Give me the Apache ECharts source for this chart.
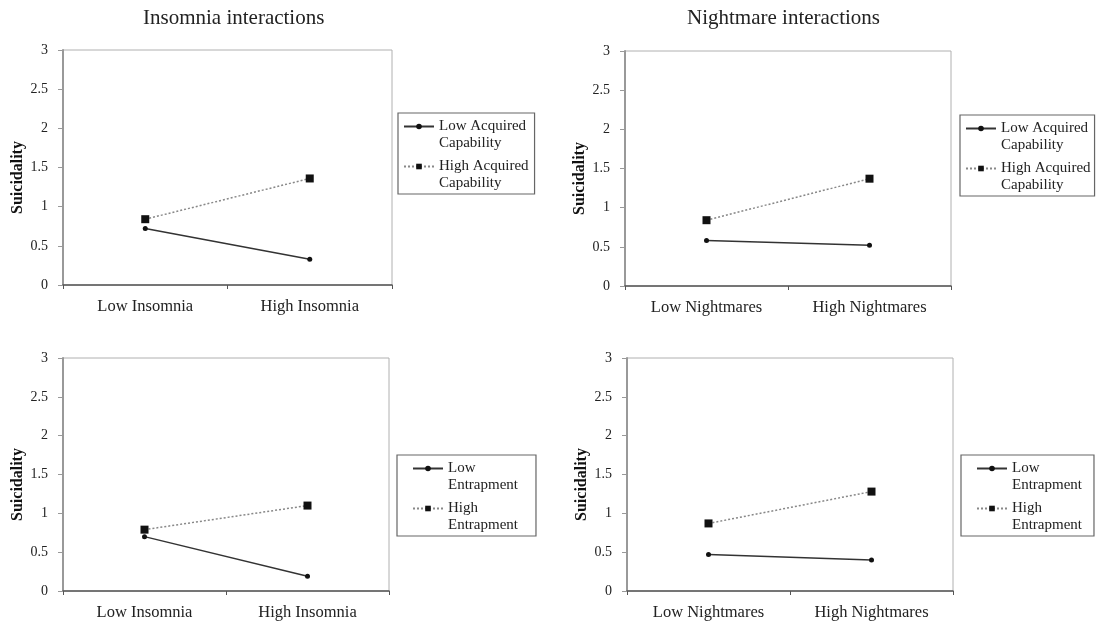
<!DOCTYPE html>
<html><head><meta charset="utf-8">
<script src="https://cdn.jsdelivr.net/npm/echarts@6/dist/echarts.min.js"></script>
<style>html,body{margin:0;padding:0;background:#fff}#c{width:1097px;height:626px}</style>
</head><body><div id="c"></div>
<script>
// ---- data ----
const insomniaCategories = ['Low Insomnia', 'High Insomnia'];
const nightmareCategories = ['Low Nightmares', 'High Nightmares'];
const yTickLabels = ['0', '0.5', '1', '1.5', '2', '2.5', '3'];
const insomniaLowCapability = [0.72, 0.33];
const insomniaHighCapability = [0.84, 1.36];
const nightmareLowCapability = [0.58, 0.52];
const nightmareHighCapability = [0.84, 1.37];
const insomniaLowEntrapment = [0.70, 0.19];
const insomniaHighEntrapment = [0.79, 1.10];
const nightmareLowEntrapment = [0.47, 0.40];
const nightmareHighEntrapment = [0.87, 1.28];
const panelTitles = ['Insomnia interactions', 'Nightmare interactions'];
const yAxisName = 'Suicidality';
const capabilityLabels = ['Low Acquired\nCapability', 'High Acquired\nCapability'];
const entrapmentLabels = ['Low\nEntrapment', 'High\nEntrapment'];

// ---- layout / style ----
const FONT = '"Liberation Serif", "Times New Roman", serif';
const grids = [
  {left: 63, top: 50, width: 329, height: 235},
  {left: 625, top: 51, width: 326, height: 235},
  {left: 63, top: 358, width: 326, height: 233},
  {left: 627, top: 358, width: 326, height: 233}
];
const panels = [
  {cats: insomniaCategories, low: insomniaLowCapability, high: insomniaHighCapability, labels: capabilityLabels,
   legend: {left: 398, top: 113, padL: 5, padR: 6}},
  {cats: nightmareCategories, low: nightmareLowCapability, high: nightmareHighCapability, labels: capabilityLabels,
   legend: {left: 960, top: 115, padL: 5, padR: 4}},
  {cats: insomniaCategories, low: insomniaLowEntrapment, high: insomniaHighEntrapment, labels: entrapmentLabels,
   legend: {left: 397, top: 455, padL: 15, padR: 18}},
  {cats: nightmareCategories, low: nightmareLowEntrapment, high: nightmareHighEntrapment, labels: entrapmentLabels,
   legend: {left: 961, top: 455, padL: 15, padR: 12}}
];

const labelMap = {};
const option = {
  animation: false,
  backgroundColor: '#fff',
  grid: [], xAxis: [], yAxis: [], series: [], legend: [],
  graphic: [
    {type: 'text', left: 143, top: 8, style: {text: panelTitles[0], font: '21px ' + FONT, fill: '#222'}},
    {type: 'text', left: 687, top: 8, style: {text: panelTitles[1], font: '21px ' + FONT, fill: '#222'}}
  ]
};

panels.forEach((p, i) => {
  option.grid.push(Object.assign({show: true, borderColor: '#b0b0b0', borderWidth: 1, backgroundColor: '#fff'}, grids[i]));
  option.xAxis.push({
    type: 'category', gridIndex: i, data: p.cats, boundaryGap: true,
    axisLine: {lineStyle: {color: '#555', width: 1.5}},
    axisTick: {show: true, length: 4, lineStyle: {color: '#555'}},
    axisLabel: {fontFamily: FONT, fontSize: 16.5, color: '#222', margin: 13}
  });
  option.yAxis.push({
    type: 'value', gridIndex: i, min: 0, max: 3, interval: 0.5,
    axisLine: {show: true, lineStyle: {color: '#999', width: 2}},
    axisTick: {show: true, length: 5, lineStyle: {color: '#999'}},
    splitLine: {show: false},
    axisLabel: {fontFamily: FONT, fontSize: 14, color: '#222', margin: 15,
      formatter: (v) => yTickLabels[Math.round(v * 2)]},
    name: yAxisName, nameLocation: 'middle', nameGap: 37, nameRotate: 90,
    nameTextStyle: {fontFamily: FONT, fontSize: 16, fontWeight: 'bold', color: '#111', padding: [0, 20, 0, 0]}
  });
  const lowName = 'p' + i + '_low', highName = 'p' + i + '_high';
  labelMap[lowName] = '\n' + p.labels[0];
  labelMap[highName] = '\n' + p.labels[1];
  option.series.push({
    name: lowName, type: 'line', xAxisIndex: i, yAxisIndex: i, data: p.low,
    symbol: 'circle', symbolSize: 5,
    lineStyle: {color: '#333', width: 1.5, type: 'solid'},
    itemStyle: {color: '#111'}
  });
  option.series.push({
    name: highName, type: 'line', xAxisIndex: i, yAxisIndex: i, data: p.high,
    symbol: 'rect', symbolSize: 8,
    lineStyle: {color: '#888', width: 1.5, type: [2, 2]},
    itemStyle: {color: '#111'}
  });
  option.legend.push({
    orient: 'vertical', left: p.legend.left, top: p.legend.top,
    data: [lowName, highName], selectedMode: false,
    formatter: (n) => labelMap[n],
    itemWidth: 30, itemHeight: 7, itemGap: -11,
    padding: [-12, p.legend.padR, 2, p.legend.padL],
    borderColor: '#666', borderWidth: 1.2, backgroundColor: '#fff',
    textStyle: {fontFamily: FONT, fontSize: 15, color: '#222', lineHeight: 17}
  });
});

const chart = echarts.init(document.getElementById('c'), null, {renderer: 'canvas'});
chart.setOption(option);
</script>
</body></html>
